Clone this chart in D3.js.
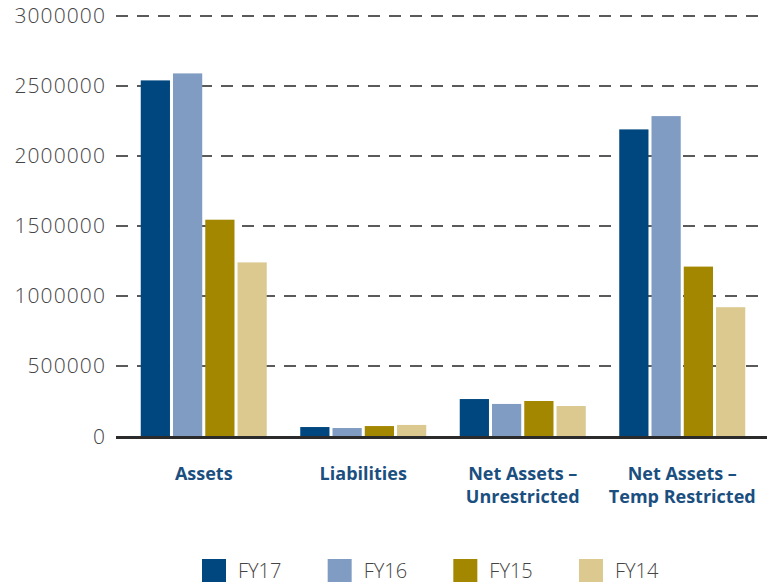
<!DOCTYPE html>
<html>
<head>
<meta charset="utf-8">
<script src="https://cdn.jsdelivr.net/npm/d3@7"></script>
<style>
  body { margin: 0; background: #fff; }
  svg { display: block; }
  .tick-label { font-family: "Open Sans", sans-serif; font-weight: 300; font-size: 21px; fill: #444; letter-spacing: 1.1px; }
  .cat-label { font-family: "Open Sans", sans-serif; font-weight: 700; font-size: 18px; fill: #1b4f7f; }
  .legend-label { font-family: "Open Sans", sans-serif; font-weight: 300; font-size: 20px; fill: #444; }
</style>
</head>
<body>
<div id="wrapper"></div>
<script>
// data
const categories = ["Assets", "Liabilities", "Net Assets –\nUnrestricted", "Net Assets –\nTemp Restricted"]
const years = ["FY17", "FY16", "FY15", "FY14"]
const colors = ["#00477f", "#809cc2", "#a38700", "#dbc990"]
const fy17 = [2540000, 64000, 264000, 2190000]
const fy16 = [2590000, 57000, 229000, 2285000]
const fy15 = [1545000, 71000, 250000, 1210000]
const fy14 = [1240000, 79000, 214000, 920000]
const seriesValues = [fy17, fy16, fy15, fy14]
const yTicks = [0, 500000, 1000000, 1500000, 2000000, 2500000, 3000000]

const dataset = []
categories.forEach((cat, ci) => {
  years.forEach((yr, yi) => {
    dataset.push({ category: cat, year: yr, value: seriesValues[yi][ci] })
  })
})

// dimensions
const width = 767
const height = 582
const plotLeft = 116
const plotRight = 767

const wrapper = d3.select("#wrapper")
  .append("svg")
    .attr("width", width)
    .attr("height", height)

// scales
const yScale = d3.scaleLinear()
  .domain([0, 3000000])
  .range([436, 16])

const xScale = d3.scaleBand()
  .domain(categories)
  .range([124, 762])
  .paddingInner(0.21)
  .paddingOuter(0.105)

const xInner = d3.scaleBand()
  .domain(years)
  .range([0, xScale.bandwidth()])
  .paddingInner(0.094)

const colorScale = d3.scaleOrdinal()
  .domain(years)
  .range(colors)

// gridlines
wrapper.selectAll(".grid")
    .data(yTicks.filter(d => d > 0))
  .enter().append("line")
    .attr("x1", plotLeft)
    .attr("x2", plotRight)
    .attr("y1", d => yScale(d))
    .attr("y2", d => yScale(d))
    .attr("stroke", "#5a5a5a")
    .attr("stroke-width", 2)
    .attr("stroke-dasharray", "12,9")

// y labels
wrapper.selectAll(".tick-label")
    .data(yTicks)
  .enter().append("text")
    .attr("class", "tick-label")
    .attr("x", 106)
    .attr("y", d => yScale(d) + (d === 0 ? 2 : 1))
    .attr("text-anchor", "end")
    .attr("dominant-baseline", "middle")
    .text(d => d)

// bars
wrapper.selectAll(".bar")
    .data(dataset)
  .enter().append("rect")
    .attr("class", "bar")
    .attr("x", d => xScale(d.category) + xInner(d.year))
    .attr("width", xInner.bandwidth())
    .attr("y", d => yScale(d.value))
    .attr("height", d => yScale(0) - yScale(d.value))
    .attr("fill", d => colorScale(d.year))

// baseline
wrapper.append("line")
    .attr("x1", plotLeft)
    .attr("x2", plotRight)
    .attr("y1", yScale(0) + 1.5)
    .attr("y2", yScale(0) + 1.5)
    .attr("stroke", "#2b2b2b")
    .attr("stroke-width", 3)

// category labels
const catLabels = wrapper.selectAll(".cat-label")
    .data(categories)
  .enter().append("text")
    .attr("class", "cat-label")
    .attr("text-anchor", "middle")
    .attr("x", d => xScale(d) + xScale.bandwidth() / 2)
    .attr("y", 480)

catLabels.selectAll("tspan")
    .data(d => d.split("\n").map(t => ({ t, x: xScale(d) + xScale.bandwidth() / 2 })))
  .enter().append("tspan")
    .attr("x", d => d.x)
    .attr("dy", (d, i) => i ? 23 : 0)
    .text(d => d.t)

// legend
const legendX = d3.scalePoint()
  .domain(years)
  .range([202, 579])

const legend = wrapper.selectAll(".legend")
    .data(years)
  .enter().append("g")
    .attr("transform", d => `translate(${legendX(d)}, 559)`)

legend.append("rect")
    .attr("width", 24)
    .attr("height", 23)
    .attr("fill", d => colorScale(d))

legend.append("text")
    .attr("class", "legend-label")
    .attr("x", 36)
    .attr("y", 19)
    .text(d => d)
</script>
</body>
</html>
